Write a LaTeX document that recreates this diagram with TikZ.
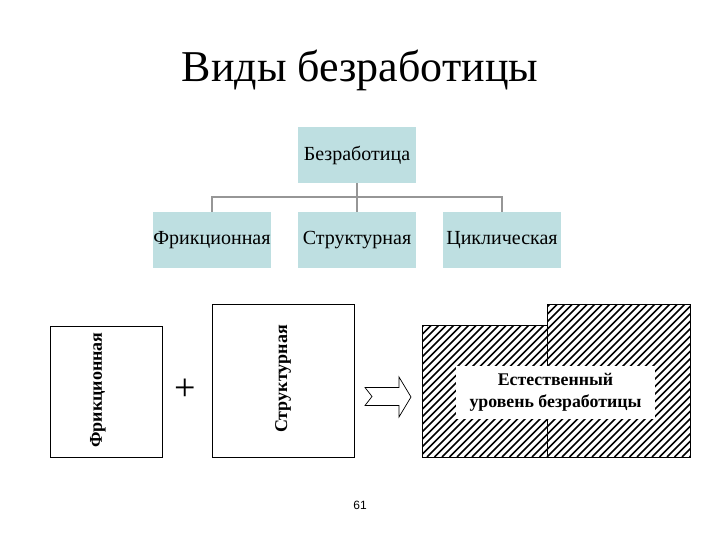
\documentclass[tikz,border=0pt]{standalone}
\usepackage{fontspec}
\setmainfont{Liberation Serif}
\newfontfamily\pagefont{Liberation Sans}
\usetikzlibrary{positioning}
\definecolor{boxfill}{RGB}{190,223,225}
\definecolor{conngray}{RGB}{150,150,150}
\tikzset{
  topbox/.style={fill=boxfill, draw=none, minimum width=118pt, minimum height=56pt, inner sep=0pt, font=\fontsize{20}{23}\selectfont},
  conn/.style={draw=conngray, line width=2pt},
  plainbox/.style={draw=black, line width=0.8pt, fill=white, inner sep=0pt},
  vlabel/.style={rotate=90, font=\bfseries\fontsize{18}{21}\selectfont, inner sep=0pt},
  hatchline/.style={line width=1.7pt},
}
\begin{document}
\begin{tikzpicture}[x=1pt,y=-1pt]
\useasboundingbox (0,0) rectangle (720,540);
% title
\node[font=\fontsize{44}{50}\selectfont] (title) at (360,70) {Виды безработицы};
% org chart
\node[topbox] (top) at (357,155) {Безработица};
\node[topbox] (b1) at (212,240) {Фрикционная};
\node[topbox] (b2) at (357,240) {Структурная};
\node[topbox] (b3) at (502,240) {Циклическая};
\coordinate (j) at (357,197);
\draw[conn] (top.south) -- (j);
\draw[conn] (j) -| (b1.north);
\draw[conn] (j) -| (b3.north);
\draw[conn] (j) -- (b2.north);
% left boxes
\node[plainbox, minimum width=112pt, minimum height=131pt] (fbox) at (106,391.5) {};
\node[vlabel] (flab) at (98,390) {Фрикционная};
\node[plainbox, minimum width=142pt, minimum height=153pt] (sbox) at (283,380.5) {};
\node[vlabel] (slab) at (283,379) {Структурная};
\node[font=\fontsize{38}{40}\selectfont, inner sep=0pt] (plus) at (185,390) {+};
% arrow
\draw[line width=0.7pt, fill=white] (365,387.5) -- (399,387.5) -- (399,377) -- (411,397) -- (399,417) -- (399,405.5) -- (365,405.5) -- (372,396.5) -- cycle;
% hatched area
\begin{scope}
\clip (422,325) -- (547,325) -- (547,304) -- (690,304) -- (690,457) -- (422,457) -- cycle;
\foreach \k in {0,7.5,...,450} {
  \draw[hatchline] (422+\k-160,457) -- (422+\k,297);
}
\end{scope}
\draw[line width=0.8pt] (422,325) -- (547,325) -- (547,304) -- (690,304) -- (690,457) -- (422,457) -- cycle;
\draw[line width=0.8pt] (547,325) -- (547,457);
\node[fill=white, minimum width=199pt, minimum height=53pt, inner sep=0pt, align=center, font=\bfseries\fontsize{17.8}{22}\selectfont] (nat) at (555.5,392) {Естественный\\уровень безработицы};
% page number
\node[font=\pagefont\fontsize{12}{14}\selectfont] (pg) at (360,505) {61};
\end{tikzpicture}
\end{document}
